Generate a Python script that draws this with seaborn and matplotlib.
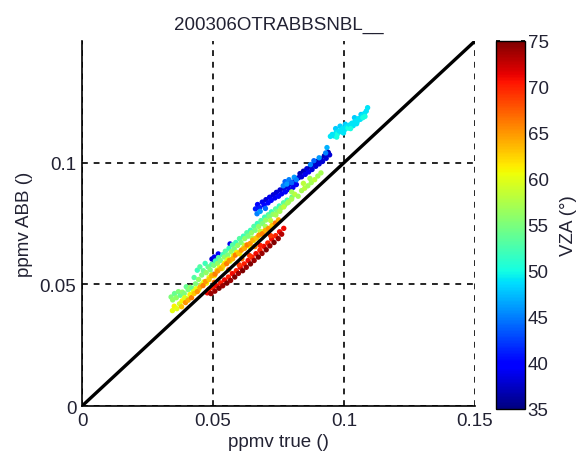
import numpy as np
import pandas as pd
import matplotlib
matplotlib.use("Agg")
import matplotlib.pyplot as plt
import seaborn as sns

# ---- data (ppmv true, ppmv ABB, VZA in degrees) ----
cyan_x = [0.0935, 0.0948, 0.0955, 0.0962, 0.0968, 0.0970, 0.0975, 0.0982, 0.0985,
          0.0990, 0.0995, 0.1002, 0.1005, 0.1010, 0.1015, 0.1022, 0.1030, 0.1035,
          0.1040, 0.1042, 0.1050, 0.1055, 0.1062, 0.1065, 0.1070, 0.1078, 0.1085,
          0.1090, 0.1080, 0.0972, 0.0998, 0.1025, 0.1048, 0.1072]
cyan_y = [0.1062, 0.1108, 0.1116, 0.1110, 0.1140, 0.1124, 0.1118, 0.1130, 0.1150,
          0.1127, 0.1141, 0.1135, 0.1158, 0.1148, 0.1142, 0.1155, 0.1162, 0.1152,
          0.1185, 0.1170, 0.1168, 0.1181, 0.1178, 0.1198, 0.1194, 0.1202, 0.1212,
          0.1226, 0.1190, 0.1105, 0.1122, 0.1140, 0.1160, 0.1185]
cyan_vza = [47, 49, 49, 49, 48, 49, 50, 49, 48, 49, 49, 49, 48, 49, 50, 49, 49, 49,
            48, 49, 49, 49, 49, 48, 49, 49, 49, 49, 50, 50, 49, 50, 49, 50]

blue_x = [0.0662, 0.0670, 0.0678, 0.0688, 0.0695, 0.0702, 0.0710, 0.0716, 0.0722,
          0.0730, 0.0736, 0.0742, 0.0750, 0.0756, 0.0762, 0.0770, 0.0776, 0.0784,
          0.0790, 0.0798, 0.0805, 0.0812, 0.0818, 0.0826, 0.0832, 0.0838, 0.0845,
          0.0852, 0.0858, 0.0865, 0.0872, 0.0878, 0.0885, 0.0892, 0.0898, 0.0905,
          0.0912, 0.0918, 0.0925, 0.0932, 0.0940, 0.0945,
          0.0496, 0.0505, 0.0512, 0.0520, 0.0565]
blue_y = [0.0810, 0.0828, 0.0815, 0.0838, 0.0825, 0.0848, 0.0835, 0.0858, 0.0845,
          0.0868, 0.0855, 0.0878, 0.0862, 0.0888, 0.0872, 0.0895, 0.0880, 0.0902,
          0.0890, 0.0912, 0.0898, 0.0925, 0.0910, 0.0938, 0.0955, 0.0942, 0.0965,
          0.0952, 0.0975, 0.0962, 0.0985, 0.0972, 0.0995, 0.0985, 0.1005, 0.0995,
          0.1015, 0.1005, 0.1028, 0.1018, 0.1042, 0.1032,
          0.0604, 0.0612, 0.0600, 0.0625, 0.0666]
blue_vza = [41, 40, 41, 39, 40, 38, 40, 39, 40, 38, 39, 38, 40, 38, 39, 38, 40, 38,
            39, 38, 39, 38, 39, 38, 37, 38, 37, 39, 38, 39, 37, 38, 37, 38, 37, 38,
            37, 38, 37, 38, 37, 38,
            38, 39, 38, 40, 39]

lblue_x = [0.0668, 0.0680, 0.0700, 0.0768, 0.0775, 0.0782, 0.0790, 0.0800, 0.0810,
           0.0818, 0.0872, 0.0885, 0.0905, 0.0930]
lblue_y = [0.0790, 0.0800, 0.0812, 0.0905, 0.0922, 0.0912, 0.0930, 0.0918, 0.0940,
           0.0930, 0.0992, 0.1008, 0.1020, 0.1040]
lblue_vza = [45, 46, 44, 45, 44, 46, 45, 44, 46, 45, 45, 44, 46, 45]

green_x = [0.0340, 0.0346, 0.0353, 0.0360, 0.0368, 0.0375, 0.0383, 0.0390, 0.0398,
           0.0405, 0.0413, 0.0420, 0.0428, 0.0433, 0.0440, 0.0445, 0.0450, 0.0457,
           0.0463, 0.0470, 0.0474, 0.0481, 0.0489, 0.0495, 0.0503, 0.0509, 0.0517,
           0.0521, 0.0528, 0.0537, 0.0543, 0.0547, 0.0556, 0.0561, 0.0569, 0.0574,
           0.0581, 0.0587, 0.0594, 0.0601, 0.0607, 0.0616, 0.0621, 0.0629, 0.0634,
           0.0643, 0.0647, 0.0656, 0.0661, 0.0669, 0.0674, 0.0683, 0.0689, 0.0697,
           0.0701, 0.0711, 0.0715, 0.0723, 0.0729, 0.0739, 0.0744, 0.0753, 0.0759,
           0.0769, 0.0774, 0.0783, 0.0789, 0.0801]
green_y = [0.0448, 0.0436, 0.0462, 0.0445, 0.0470, 0.0455, 0.0468, 0.0462, 0.0490,
           0.0478, 0.0488, 0.0484, 0.0528, 0.0502, 0.0558, 0.0520, 0.0572, 0.0538,
           0.0556, 0.0586, 0.0548, 0.0572, 0.0560, 0.0582, 0.0578, 0.0596, 0.0586,
           0.0610, 0.0598, 0.0622, 0.0612, 0.0636, 0.0620, 0.0648, 0.0634, 0.0662,
           0.0646, 0.0672, 0.0660, 0.0688, 0.0672, 0.0698, 0.0688, 0.0712, 0.0698,
           0.0722, 0.0712, 0.0738, 0.0722, 0.0750, 0.0738, 0.0762, 0.0750, 0.0776,
           0.0764, 0.0786, 0.0778, 0.0798, 0.0788, 0.0810, 0.0800, 0.0822, 0.0814,
           0.0835, 0.0826, 0.0846, 0.0840, 0.0858]
green_vza = [55, 56, 54, 56, 55, 54, 56, 55, 54, 55, 56, 54, 53, 55, 52, 56, 53, 55,
             54, 52, 56, 54, 55, 53, 55, 52, 56, 53, 55, 52, 56, 53, 55, 52, 56, 53,
             55, 52, 56, 53, 55, 52, 56, 53, 55, 52, 56, 53, 55, 52, 56, 53, 55, 52,
             56, 53, 55, 52, 56, 53, 55, 52, 56, 53, 55, 52, 56, 54]

lime_x = [0.0560, 0.0590, 0.0620, 0.0650, 0.0680, 0.0700, 0.0720, 0.0740, 0.0755,
          0.0770, 0.0785, 0.0800, 0.0812, 0.0825, 0.0838, 0.0850, 0.0862, 0.0875,
          0.0888, 0.0900, 0.0912, 0.0845, 0.0870, 0.0800]
lime_y = [0.0605, 0.0632, 0.0660, 0.0690, 0.0718, 0.0738, 0.0762, 0.0785, 0.0800,
          0.0818, 0.0835, 0.0850, 0.0870, 0.0862, 0.0885, 0.0895, 0.0905, 0.0918,
          0.0930, 0.0945, 0.0958, 0.0915, 0.0935, 0.0880]
lime_vza = [58, 57, 58, 57, 58, 57, 58, 57, 57, 58, 57, 57, 58, 57, 57, 58, 57, 57,
            58, 57, 57, 58, 57, 57]

yellow_x = [0.0345, 0.0352, 0.0362, 0.0372, 0.0382, 0.0392, 0.0402, 0.0412, 0.0425,
            0.0435, 0.0445, 0.0455, 0.0465, 0.0475, 0.0485, 0.0495, 0.0505, 0.0515,
            0.0525, 0.0535, 0.0545, 0.0555, 0.0565, 0.0578, 0.0590, 0.0602, 0.0615,
            0.0628, 0.0640, 0.0655, 0.0668, 0.0682, 0.0695]
yellow_y = [0.0392, 0.0410, 0.0400, 0.0420, 0.0432, 0.0445, 0.0440, 0.0458, 0.0470,
            0.0482, 0.0478, 0.0498, 0.0510, 0.0505, 0.0528, 0.0540, 0.0535, 0.0558,
            0.0570, 0.0565, 0.0588, 0.0600, 0.0595, 0.0618, 0.0630, 0.0625, 0.0648,
            0.0660, 0.0655, 0.0680, 0.0692, 0.0705, 0.0718]
yellow_vza = [60, 61, 60, 59, 61, 60, 59, 61, 60, 60, 61, 59, 60, 61, 60, 59, 61, 60,
              60, 59, 61, 60, 59, 60, 61, 60, 59, 60, 61, 60, 59, 60, 61]

orange_x = [0.0380, 0.0395, 0.0405, 0.0418, 0.0428, 0.0440, 0.0450, 0.0462, 0.0472,
            0.0485, 0.0495, 0.0508, 0.0518, 0.0530, 0.0540, 0.0552, 0.0562, 0.0575,
            0.0585, 0.0598, 0.0608, 0.0620, 0.0630, 0.0642, 0.0652, 0.0665, 0.0675,
            0.0688, 0.0700, 0.0712, 0.0725, 0.0738, 0.0750, 0.0560, 0.0610, 0.0660,
            0.0505]
orange_y = [0.0408, 0.0425, 0.0435, 0.0445, 0.0462, 0.0470, 0.0488, 0.0495, 0.0512,
            0.0520, 0.0535, 0.0542, 0.0555, 0.0565, 0.0578, 0.0585, 0.0598, 0.0605,
            0.0620, 0.0628, 0.0640, 0.0648, 0.0662, 0.0668, 0.0682, 0.0690, 0.0702,
            0.0708, 0.0722, 0.0730, 0.0742, 0.0752, 0.0765, 0.0560, 0.0605, 0.0655,
            0.0508]
orange_vza = [63, 65, 64, 66, 63, 65, 64, 66, 65, 63, 64, 66, 65, 64, 63, 66, 65, 64,
              66, 63, 65, 64, 66, 65, 64, 63, 65, 66, 64, 65, 63, 66, 64, 67, 67, 66,
              67]

red_x = [0.0478, 0.0484, 0.0492, 0.0499, 0.0507, 0.0514, 0.0523, 0.0529, 0.0537,
         0.0544, 0.0553, 0.0559, 0.0567, 0.0574, 0.0583, 0.0589, 0.0597, 0.0604,
         0.0613, 0.0619, 0.0627, 0.0634, 0.0643, 0.0649, 0.0657, 0.0664, 0.0673,
         0.0679, 0.0687, 0.0694, 0.0703, 0.0709, 0.0717, 0.0724, 0.0733, 0.0739,
         0.0749, 0.0754, 0.0762, 0.0770, 0.0600, 0.0640, 0.0680, 0.0720]
red_y = [0.0465, 0.0478, 0.0462, 0.0486, 0.0472, 0.0494, 0.0484, 0.0506, 0.0494,
         0.0518, 0.0505, 0.0530, 0.0516, 0.0544, 0.0530, 0.0556, 0.0545, 0.0570,
         0.0556, 0.0584, 0.0570, 0.0598, 0.0584, 0.0612, 0.0598, 0.0626, 0.0612,
         0.0640, 0.0627, 0.0656, 0.0642, 0.0670, 0.0658, 0.0686, 0.0672, 0.0700,
         0.0688, 0.0716, 0.0706, 0.0730, 0.0580, 0.0618, 0.0660, 0.0700]
red_vza = [71, 70, 74, 70, 74, 71, 75, 70, 74, 71, 75, 70, 74, 71, 75, 70, 74, 71,
           75, 70, 74, 71, 75, 70, 74, 71, 75, 70, 74, 71, 75, 70, 74, 71, 75, 70,
           74, 71, 73, 71, 69, 69, 70, 69]

x_ticks = [0, 0.05, 0.1, 0.15]
x_tick_labels = ["0", "0.05", "0.1", "0.15"]
y_ticks = [0, 0.05, 0.1]
y_tick_labels = ["0", "0.05", "0.1"]
cbar_ticks = [35, 40, 45, 50, 55, 60, 65, 70, 75]

df = pd.DataFrame({
    "true": cyan_x + blue_x + lblue_x + green_x + lime_x + yellow_x + orange_x + red_x,
    "abb": cyan_y + blue_y + lblue_y + green_y + lime_y + yellow_y + orange_y + red_y,
    "vza": cyan_vza + blue_vza + lblue_vza + green_vza + lime_vza + yellow_vza
           + orange_vza + red_vza,
})

sns.set_theme(style="white")
plt.rcParams["font.family"] = ["Liberation Sans", "DejaVu Sans"]

jet = plt.get_cmap("jet")
txt = "#222233"
fs = 13.5

fig = plt.figure(figsize=(5.8, 4.6), dpi=100)
ax = fig.add_axes([0.1414, 0.1152, 0.6776, 0.7935])

ax.plot([0, 0.15], [0, 0.15], color="black", lw=2.4, zorder=3)
sns.scatterplot(data=df, x="true", y="abb", hue="vza", palette=jet,
                hue_norm=(35, 75), s=15, linewidth=0, marker="o",
                legend=False, ax=ax, zorder=2)

ax.set_xlim(0, 0.15)
ax.set_ylim(0, 0.15)
ax.set_xticks(x_ticks)
ax.set_xticklabels(x_tick_labels)
ax.set_yticks(y_ticks)
ax.set_yticklabels(y_tick_labels)
ax.tick_params(direction="in", length=4, color="black", labelsize=fs,
               labelcolor=txt, pad=4)
ax.grid(True, color="black", linestyle=(0, (3.5, 3.5)), lw=1.2)
for side in ["top", "right"]:
    ax.spines[side].set_visible(False)
for side in ["left", "bottom"]:
    ax.spines[side].set_color("black")
    ax.spines[side].set_linewidth(1.2)

ax.set_xlabel("ppmv true ()", fontsize=fs, color=txt, labelpad=3)
ax.set_ylabel("ppmv ABB ()", fontsize=fs, color=txt, labelpad=5)
ax.set_title("200306OTRABBSNBL__", fontsize=fs, color=txt, pad=9)

cax = fig.add_axes([0.855, 0.109, 0.05, 0.8])
sm = plt.cm.ScalarMappable(cmap=jet, norm=plt.Normalize(35, 75))
cb = fig.colorbar(sm, cax=cax, ticks=cbar_ticks)
cb.outline.set_edgecolor("black")
cb.outline.set_linewidth(1.0)
cax.tick_params(direction="in", length=3, color="black", left=True, right=True,
                labelsize=fs, labelcolor=txt, pad=2)
cb.set_label("VZA (°)", fontsize=fs, color=txt, labelpad=8)

fig.savefig("out.png", dpi=100)
